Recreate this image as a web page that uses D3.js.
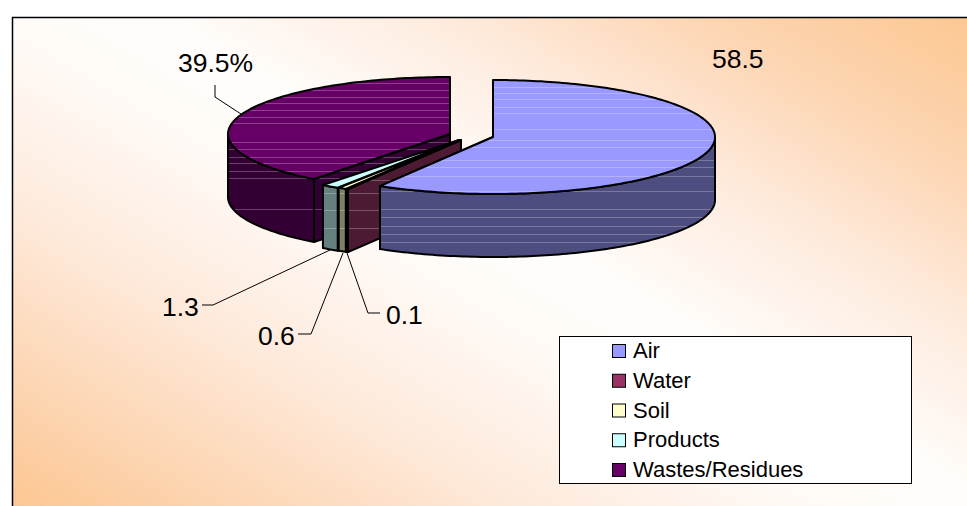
<!DOCTYPE html>
<html>
<head>
<meta charset="utf-8">
<script src="https://cdn.jsdelivr.net/npm/d3@7/dist/d3.min.js"></script>
<style>
  html, body { margin: 0; padding: 0; background: #fff; }
  svg { display: block; }
  text { font-family: "Liberation Sans", Arial, sans-serif; fill: #000; }
</style>
</head>
<body>
<svg id="chart" width="967" height="506"></svg>
<script>
const categories = ["Air", "Water", "Soil", "Products", "Wastes/Residues"];
const shares = [58.5, 0.1, 0.6, 1.3, 39.5];
const valueLabels = ["58.5", "0.1", "0.6", "1.3", "39.5%"];
const topColors = ["#9999ff", "#993366", "#ffffcc", "#ccffff", "#660066"];
const sideColors = ["#4d4d80", "#4d1a33", "#808066", "#668080", "#330033"];

// Pull-out centre of every slice on the page
const sliceCentres = [[493, 137], [461, 140], [460, 140], [459, 140], [450, 134]];
const RX = 222, RY = 57, DEPTH = 63;

// Banding that runs across the shaded faces of each slice
const airBands = [87, 93, 99, 107, 113, 129, 140, 147, 160, 167, 176, 191, 209, 217, 226, 234, 242];
const thinBands = [180, 193, 210, 228];
const wasteBands = [83, 90, 97, 103, 110, 117, 123, 142, 149, 157, 163, 171, 178, 209];
const bandsBySlice = [airBands, thinBands, thinBands, thinBands, wasteBands];

// Leader polylines and label anchors, in the same order as the categories
const leaders = [null,
  [[380, 313], [368, 313], [347, 253]],
  [[298, 334], [311, 334], [343, 253]],
  [[202, 305], [213, 305], [330, 250]],
  [[215, 85], [215, 97], [241, 114]]];
const labelAnchors = [[712, 68], [386, 324], [258, 345], [162, 316], [178, 72]];

const svg = d3.select("#chart");
const defs = svg.append("defs");

// Diagonal two-sided fade: peach corners, pale band from top left to bottom right
const bg = defs.append("linearGradient").attr("id", "plotFill")
  .attr("gradientUnits", "userSpaceOnUse")
  .attr("x1", 250).attr("y1", 652).attr("x2", 710).attr("y2", -132);
bg.selectAll("stop").data([
  [0, "#fcc690"], [0.15, "#fdd8b8"], [0.3, "#feebdd"], [0.45, "#fffaf6"], [0.55, "#fffdfb"],
  [0.7, "#feecdf"], [0.85, "#fdd6b4"], [1, "#fcc892"]
]).join("stop").attr("offset", d => d[0]).attr("stop-color", d => d[1]);

svg.append("rect")
  .attr("x", 12.5).attr("y", 17.5).attr("width", 960).attr("height", 495)
  .attr("fill", "url(#plotFill)").attr("stroke", "#000").attr("stroke-width", 1.5);

// Slices share one angular layout, clockwise from twelve o'clock
const slices = d3.pie().sort(null).value(d => d).startAngle(0).endAngle(2 * Math.PI)(shares);

const px = (c, a) => c[0] + RX * Math.sin(a);
const py = (c, a) => c[1] - RY * Math.cos(a);
const path = d3.line();

function rimPoints(c, a0, a1, dy) {
  const n = Math.max(2, Math.ceil((a1 - a0) / 0.02));
  return d3.range(n + 1).map(i => {
    const a = a0 + (a1 - a0) * i / n;
    return [px(c, a), py(c, a) + dy];
  });
}

function drawFace(g, index, pts, fill, faceKey) {
  const d = path(pts) + "Z";
  const id = `clip-${index}-${faceKey}`;
  defs.append("clipPath").attr("id", id).append("path").attr("d", d);
  g.append("path").attr("d", d).attr("fill", fill);
  g.append("g").attr("clip-path", `url(#${id})`)
    .selectAll("line").data(bandsBySlice[index]).join("line")
    .attr("x1", 0).attr("x2", 967)
    .attr("y1", r => r + 0.5).attr("y2", r => r + 0.5)
    .attr("stroke", "#fff").attr("stroke-opacity", 0.25).attr("stroke-width", 1);
  g.append("path").attr("d", d).attr("fill", "none")
    .attr("stroke", "#000").attr("stroke-width", 2).attr("stroke-linejoin", "round");
}

// Back to front: wastes first, then the thin slices, air last
const drawOrder = [4, 3, 2, 1, 0];
const pieLayer = svg.append("g");

drawOrder.forEach(i => {
  const s = slices[i];
  const c = sliceCentres[i];
  const g = pieLayer.append("g").attr("class", "slice");
  const [a0, a1] = [s.startAngle, s.endAngle];

  // Radial cut face: air shows its trailing edge, the others their leading edge
  const cutAngle = i === 0 ? a1 : a0;
  const outer = [px(c, cutAngle), py(c, cutAngle)];
  drawFace(g, i, [c, outer, [outer[0], outer[1] + DEPTH], [c[0], c[1] + DEPTH]], sideColors[i], "cut");

  // Outer wall: only the part of the rim that faces the viewer
  const wallStart = Math.max(a0, Math.PI / 2);
  const wallEnd = Math.min(a1, 3 * Math.PI / 2);
  if (wallEnd > wallStart) {
    const wall = rimPoints(c, wallStart, wallEnd, 0)
      .concat(rimPoints(c, wallStart, wallEnd, DEPTH).reverse());
    drawFace(g, i, wall, sideColors[i], "wall");
  }

  // Top face
  drawFace(g, i, [c].concat(rimPoints(c, a0, a1, 0)), topColors[i], "top");
});

// Leader lines
const leaderLine = d3.line();
svg.append("g").selectAll("path")
  .data(leaders.filter(Boolean)).join("path")
  .attr("d", d => leaderLine(d))
  .attr("fill", "none").attr("stroke", "#000").attr("stroke-width", 1);

// Value labels
svg.append("g").selectAll("text")
  .data(valueLabels).join("text")
  .attr("x", (d, i) => labelAnchors[i][0])
  .attr("y", (d, i) => labelAnchors[i][1])
  .attr("font-size", 26.5)
  .text(d => d);

// Legend
const legend = svg.append("g");
legend.append("rect")
  .attr("x", 559.5).attr("y", 336.5).attr("width", 352).attr("height", 147)
  .attr("fill", "#fff").attr("stroke", "#000").attr("stroke-width", 1);

const legendRow = d3.scalePoint().domain(categories).range([351, 470]);
const rows = legend.selectAll("g.row").data(categories).join("g").attr("class", "row");
rows.append("rect")
  .attr("x", 612.5).attr("y", d => legendRow(d) - 6.5)
  .attr("width", 13).attr("height", 13)
  .attr("fill", (d, i) => topColors[i])
  .attr("stroke", "#000").attr("stroke-width", 1);
rows.append("text")
  .attr("x", 633).attr("y", d => legendRow(d) + 7)
  .attr("font-size", 22)
  .text(d => d);
</script>
</body>
</html>
